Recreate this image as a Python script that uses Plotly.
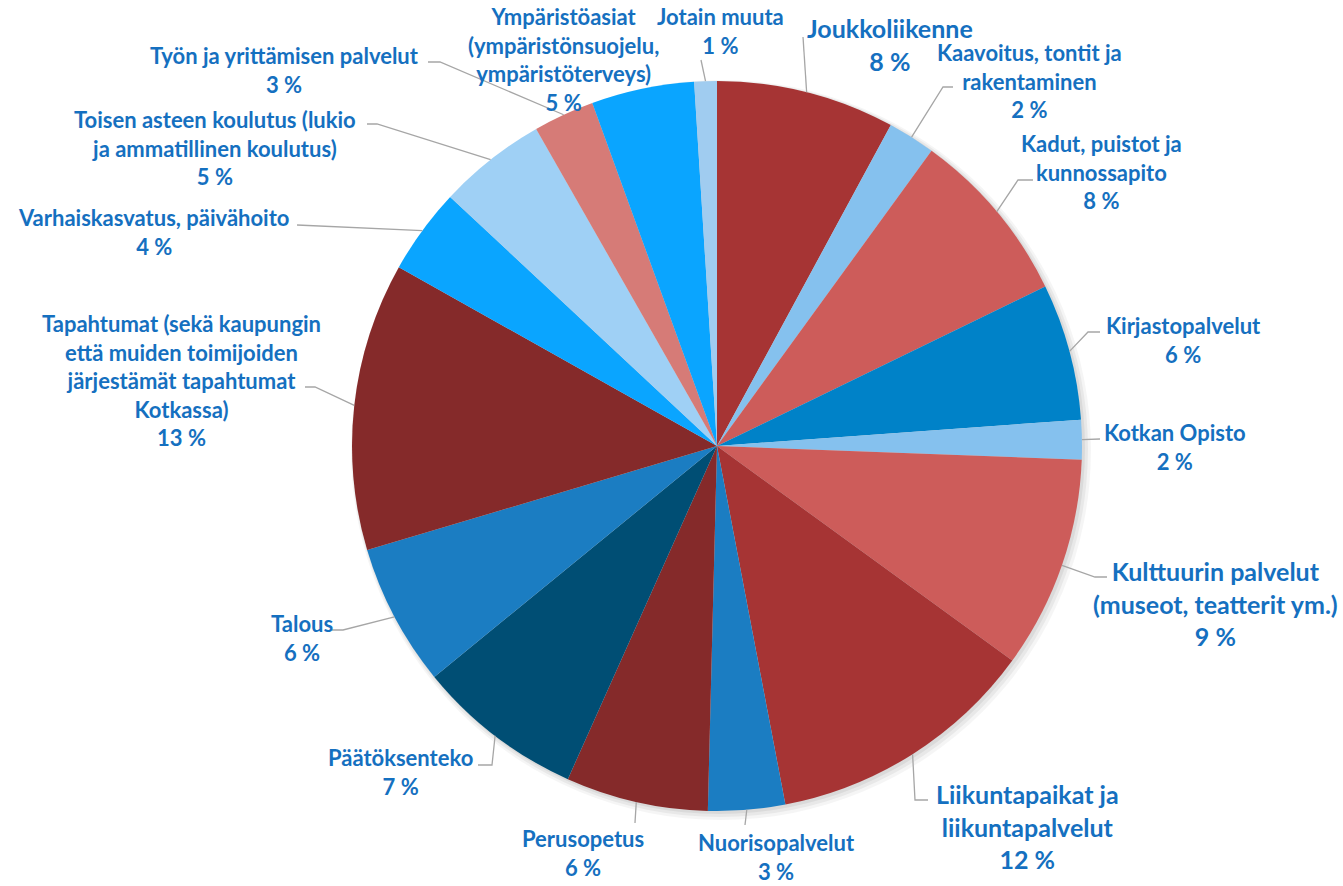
import math
import plotly.graph_objects as go

# ---- data ----
categories = [
    "Joukkoliikenne",
    "Kaavoitus, tontit ja rakentaminen",
    "Kadut, puistot ja kunnossapito",
    "Kirjastopalvelut",
    "Kotkan Opisto",
    "Kulttuurin palvelut (museot, teatterit ym.)",
    "Liikuntapaikat ja liikuntapalvelut",
    "Nuorisopalvelut",
    "Perusopetus",
    "Päätöksenteko",
    "Talous",
    "Tapahtumat (sekä kaupungin että muiden toimijoiden järjestämät tapahtumat Kotkassa)",
    "Varhaiskasvatus, päivähoito",
    "Toisen asteen koulutus (lukio ja ammatillinen koulutus)",
    "Työn ja yrittämisen palvelut",
    "Ympäristöasiat (ympäristönsuojelu, ympäristöterveys)",
    "Jotain muuta",
]
shares = [7.9, 2.1, 7.8, 6.05, 1.75, 9.4, 12.0, 3.4, 6.3, 7.4, 6.3, 12.75, 3.8, 4.8, 2.7, 4.55, 1.0]

display_labels = [
    "Joukkoliikenne",
    "Kaavoitus, tontit ja<br>rakentaminen",
    "Kadut, puistot ja<br>kunnossapito",
    "Kirjastopalvelut",
    "Kotkan Opisto",
    "Kulttuurin palvelut<br>(museot, teatterit ym.)",
    "Liikuntapaikat ja<br>liikuntapalvelut",
    "Nuorisopalvelut",
    "Perusopetus",
    "Päätöksenteko",
    "Talous",
    "Tapahtumat (sekä kaupungin<br>että muiden toimijoiden<br>järjestämät tapahtumat<br>Kotkassa)",
    "Varhaiskasvatus, päivähoito",
    "Toisen asteen koulutus (lukio<br>ja ammatillinen koulutus)",
    "Työn ja yrittämisen palvelut",
    "Ympäristöasiat<br>(ympäristönsuojelu,<br>ympäristöterveys)",
    "Jotain muuta",
]

colors = [
    "#A63434", "#85C1EE", "#CD5C5A", "#0082C8", "#85C1EE", "#CD5C5A",
    "#A63434", "#1B7DC2", "#852A2A", "#004E74", "#1B7DC2", "#852A2A",
    "#0AA5FF", "#9FD0F5", "#D67B77", "#0AA5FF", "#A0CCF0",
]

# ---- layout (pixels) ----
W, H = 1343, 886
CX, CY, R = 717, 446, 365

label_pos = [
    (890, 44), (1029, 81), (1101, 172), (1183, 340), (1175, 447), (1215, 603),
    (1027, 826), (776, 857), (583, 853), (400, 772), (302, 638), (181, 380),
    (153, 232), (215, 148), (284, 70), (563, 60), (721, 31),
]
label_size = [25, 22, 22, 22, 22, 25, 25, 22, 22, 22, 22, 22, 22, 22, 22, 22, 22]
leader_pts = [
    [(803, 37)],
    [(943, 87), (953, 87)],
    [(1018, 180), (1033, 180)],
    [(1088, 332), (1100, 332)],
    [(1100, 439)],
    [(1095, 577), (1107, 577)],
    [(915, 800), (928, 800)],
    [(745, 825)],
    [(635, 823)],
    [(492, 765), (478, 765)],
    [(343, 630), (332, 630)],
    [(315, 387), (305, 387)],
    [(297, 225)],
    [(377, 124), (367, 124)],
    [(440, 62), (428, 62)],
    [],
    [(701, 60)],
]


def px(x, y):
    return x / W, 1 - y / H


fig = go.Figure()
fig.add_trace(go.Pie(
    labels=categories,
    values=shares,
    sort=False,
    direction="clockwise",
    rotation=0,
    textinfo="none",
    marker=dict(colors=colors, line=dict(width=0)),
    domain=dict(x=[(CX - R) / W, (CX + R) / W], y=[1 - (CY + R) / H, 1 - (CY - R) / H]),
    hoverinfo="label+percent",
))

total = sum(shares)
annotations = []
shapes = []

# soft shadow under the pie
for off, rr, a in [(4, R + 5, 0.04), (3, R + 3, 0.05), (2, R + 1, 0.06)]:
    x0, y0 = px(CX + off - rr, CY + off - rr)
    x1, y1 = px(CX + off + rr, CY + off + rr)
    shapes.append(dict(type="circle", xref="paper", yref="paper", x0=x0, y0=y1, x1=x1, y1=y0,
                       fillcolor=f"rgba(0,0,0,{a})", line=dict(width=0), layer="below"))

cum = 0.0
for i, v in enumerate(shares):
    mid = (cum + v / 2) / total * 2 * math.pi
    cum += v
    sx = CX + R * math.sin(mid)
    sy = CY - R * math.cos(mid)
    pct = round(v / total * 100)
    lx, ly = label_pos[i]
    ax, ay = px(lx, ly)
    annotations.append(dict(
        x=ax, y=ay, xref="paper", yref="paper", xanchor="center", yanchor="middle",
        text=f"{display_labels[i]}<br>{pct} %", showarrow=False, align="center",
        font=dict(family="Lato", size=label_size[i], color="#1570C0", weight="bold"),
    ))
    if leader_pts[i]:
        pts = [(sx, sy)] + leader_pts[i]
        path = ""
        for j, (x, y) in enumerate(pts):
            qx, qy = px(x, y)
            path += ("M" if j == 0 else " L") + f" {qx:.5f},{qy:.5f}"
        shapes.append(dict(type="path", xref="paper", yref="paper", path=path,
                           line=dict(color="#A6A6A6", width=1.3)))

fig.update_layout(
    width=W, height=H,
    margin=dict(l=0, r=0, t=0, b=0),
    paper_bgcolor="white", plot_bgcolor="white",
    showlegend=False,
    annotations=annotations,
    shapes=shapes,
)

fig.write_html(
    "out.html",
    config={"displayModeBar": False},
    post_script="document.body.style.margin='0';document.body.style.overflow='hidden';",
)
